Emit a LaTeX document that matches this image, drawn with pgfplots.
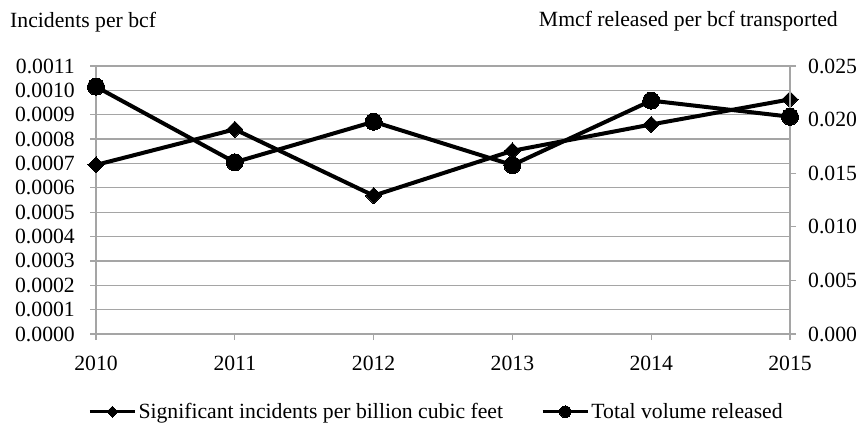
\documentclass[border=0pt]{standalone}
\usepackage{fontspec}
\setmainfont{Liberation Serif}
\usepackage{pgfplots}
\pgfplotsset{compat=1.18}
\definecolor{gridgray}{RGB}{165,165,165}

% Significant incidents per bcf (left axis)
\pgfplotstableread{
year incidents
2010 0.000694
2011 0.000840
2012 0.000568
2013 0.000752
2014 0.000860
2015 0.000963
}\incidents

% Mmcf released per bcf transported (right axis)
\pgfplotstableread{
year released
2010 0.02307
2011 0.01602
2012 0.01980
2013 0.01576
2014 0.02177
2015 0.02027
}\released

\pgfplotsset{
  base/.style={
    at={(96pt,90pt)}, anchor=south west,
    scale only axis, width=694pt, height=268pt,
    xmin=2010, xmax=2015, ymin=0,
    clip=false,
    scaled y ticks=false, scaled x ticks=false,
    axis line style={-, draw=gridgray, line width=1.2pt},
    tick align=outside, major tick length=6pt,
    tick style={draw=gridgray, line width=1.2pt},
  },
  legend image code/.code={
    \draw[mark repeat=2, mark phase=2, #1, line width=3.3pt,
          /tikz/every mark/.append style={scale=0.68}]
      plot coordinates {(0pt,0pt) (22.5pt,0pt) (45pt,0pt)};
  },
  diamondline/.style={black, line width=4pt, mark=square*, mark size=5.7pt,
    mark options={rotate=45, fill=black, line width=0pt}},
  circleline/.style={black, line width=4pt, mark=*, mark size=8.5pt,
    mark options={fill=black, line width=0pt}},
}

\begin{document}
\begin{tikzpicture}[font=\fontsize{21.7}{26}\selectfont]
\path[use as bounding box] (0,0) rectangle (862pt,424pt);
\node[anchor=base west, inner sep=0pt] at (10pt,396pt) {Incidents per bcf};
\node[anchor=base east, inner sep=0pt] at (838pt,397pt) {Mmcf released per bcf transported};

\begin{axis}[
  base,
  ymax=0.0011,
  axis x line*=bottom, axis y line*=left,
  xtick={2010,2011,2012,2013,2014,2015},
  xticklabels={2010,2011,2012,2013,2014,2015},
  ytick={0,0.0001,0.0002,0.0003,0.0004,0.0005,0.0006,0.0007,0.0008,0.0009,0.0010,0.0011},
  yticklabels={0.0000,0.0001,0.0002,0.0003,0.0004,0.0005,0.0006,0.0007,0.0008,0.0009,0.0010,0.0011},
  ymajorgrids, grid style={draw=gridgray, line width=1.2pt},
  yticklabel style={anchor=east, inner sep=0pt, xshift=-15pt},
  xticklabel style={anchor=north, inner sep=0pt, yshift=-16pt},
  legend columns=2,
  legend cell align=left,
  legend style={at={(rel axis cs:-0.0115,-0.29)}, anchor=west,
    draw=none, fill=none, inner sep=0pt,
    nodes={inner sep=2pt},
    /tikz/every even column/.append style={column sep=36pt}},
]
\addplot[diamondline] table[x=year, y=incidents] {\incidents};
\addlegendentry{Significant incidents per billion cubic feet}
\addlegendimage{circleline}
\addlegendentry{Total volume released}
\end{axis}

\begin{axis}[
  base,
  ymax=0.025,
  axis x line=none, axis y line*=right,
  ytick={0,0.005,0.010,0.015,0.020,0.025},
  yticklabels={0.000,0.005,0.010,0.015,0.020,0.025},
  yticklabel style={anchor=west, inner sep=0pt, xshift=12pt},
]
\addplot[circleline] table[x=year, y=released] {\released};
\end{axis}
\end{tikzpicture}
\end{document}
